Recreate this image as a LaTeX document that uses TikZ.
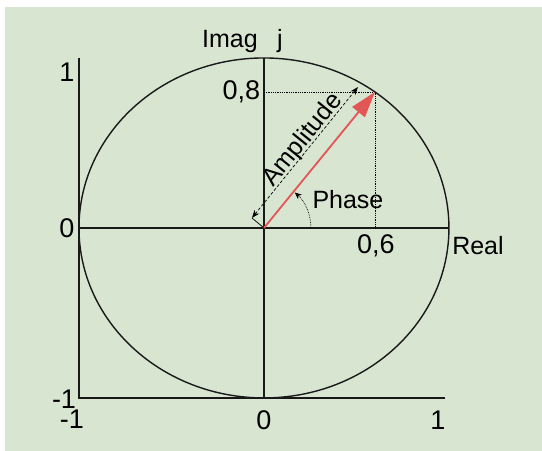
\documentclass[tikz,border=0pt]{standalone}
\usepackage{fontspec}
\setmainfont{Liberation Sans}
\usetikzlibrary{arrows.meta}
\definecolor{bgpage}{RGB}{216,229,209}
\definecolor{phasor}{RGB}{226,86,86}

\begin{document}
\begin{tikzpicture}[x=185pt, y=170pt, every node/.style={font=\fontsize{25}{30}\selectfont, inner sep=0pt}]
  \tikzstyle{axis} = [line width=1.4pt, black!90]
  \tikzstyle{guide} = [line width=0.8pt, densely dotted]
  \tikzstyle{num} = [font=\fontsize{27}{32}\selectfont]
  \useasboundingbox (-1.427,-1.312) rectangle (1.503,1.341);
  \fill[bgpage] (-1.4,-1.312) rectangle (1.503,1.3);
  % points of the diagram
  \coordinate (O) at (0,0);
  \coordinate (P) at (0.6,0.8);
  \coordinate (TL) at (-1,1);
  \coordinate (BL) at (-1,-1);
  \coordinate (BR) at (0.978,-1);
  \coordinate (W) at (-1,0);
  \coordinate (E) at (1,0);
  \coordinate (N) at (0,1);
  \coordinate (S) at (0,-1);
  \coordinate (P8) at (0,0.8);
  \coordinate (P6) at (0.6,0);
  \coordinate (A1) at (-0.065,0.059);
  \coordinate (A2) at (0.508,0.829);
  \coordinate (PhS) at (47pt,0);
  % axes and unit circle
  \draw[axis] (TL) -- (BL) -- (BR);
  \draw[axis] (O) ellipse [x radius=1, y radius=1];
  \draw[axis] (W) -- (E);
  \draw[axis] (N) -- (S);
  \draw[guide] (P8) -- (P) -- (P6);
  % amplitude and phase
  \draw[line width=0.7pt] (O) -- (A1);
  \draw[<->, >={Stealth[length=8pt, width=6pt]}, line width=0.7pt, densely dashed] (A1) -- node[pos=0.55, sloped, above=-3pt] (amp) {Amplitude} (A2);
  \draw[->, >={Stealth[length=7pt, width=6pt]}, line width=0.7pt, densely dotted] (PhS) arc[start angle=0, end angle=49, radius=47pt];
  \draw[phasor, line width=1.8pt, -{Triangle[length=26pt, width=16pt]}] (O) -- (P);
  % labels
  \node[anchor=base] (imag) at (-0.184,1.059) {Imag};
  \node[anchor=base] (jay) at (0.086,1.059) {j};
  \node[num] (yone) at (-1.065,0.918) {1};
  \node[num] (yzero) at (-1.065,0) {0};
  \node[num] (ymone) at (-1.081,-1.006) {-1};
  \node[num, anchor=east] (yeight) at (-0.02,0.8) {0,8};
  \node[num] (xsix) at (0.605,-0.106) {0,6};
  \node (real) at (1.157,-0.106) {Real};
  \node (phase) at (0.454,0.165) {Phase};
  \node[num] (xmone) at (-1.038,-1.124) {-1};
  \node[num] (xzero) at (0,-1.129) {0};
  \node[num] (xone) at (0.94,-1.129) {1};
\end{tikzpicture}
\end{document}
